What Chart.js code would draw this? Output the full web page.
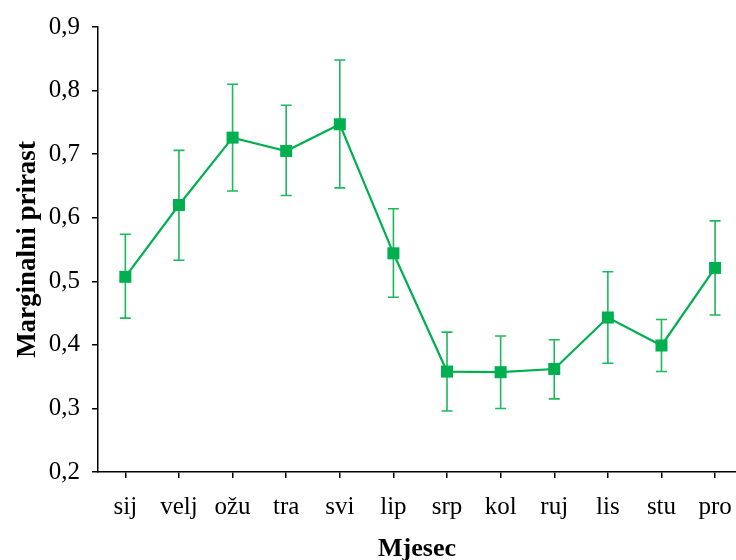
<!DOCTYPE html>
<html>
<head>
<meta charset="utf-8">
<script src="https://cdn.jsdelivr.net/npm/chart.js@4.4.1/dist/chart.umd.min.js"></script>
<style>
  html, body { margin: 0; padding: 0; background: #ffffff; }
  #wrap { width: 736px; height: 560px; }
</style>
</head>
<body>
<div id="wrap"><canvas id="c" width="736" height="560"></canvas></div>
<script>
const categories = ['sij', 'velj', 'ožu', 'tra', 'svi', 'lip', 'srp', 'kol', 'ruj', 'lis', 'stu', 'pro'];
const values = [0.507, 0.620, 0.726, 0.705, 0.747, 0.544, 0.358, 0.357, 0.362, 0.443, 0.399, 0.521];
const upper  = [0.574, 0.706, 0.810, 0.777, 0.848, 0.614, 0.420, 0.414, 0.408, 0.515, 0.440, 0.595];
const lower  = [0.442, 0.533, 0.642, 0.635, 0.647, 0.475, 0.296, 0.300, 0.315, 0.371, 0.358, 0.447];
const yTicks = [0.2, 0.3, 0.4, 0.5, 0.6, 0.7, 0.8, 0.9];
const xTitle = 'Mjesec';
const yTitle = 'Marginalni prirast';

const GREEN = '#00b050';
const BAR_GREEN = '#1cb85c';
const FONT = "'Liberation Serif', 'Times New Roman', serif";

const errorBars = {
  id: 'errorBars',
  beforeDatasetsDraw(chart) {
    const ctx = chart.ctx;
    const xs = chart.scales.x, ys = chart.scales.y;
    ctx.save();
    ctx.strokeStyle = BAR_GREEN;
    ctx.lineWidth = 1.6;
    const cap = 5.5;
    values.forEach((v, i) => {
      const x = xs.getPixelForValue(i);
      const yt = ys.getPixelForValue(upper[i]);
      const yb = ys.getPixelForValue(lower[i]);
      ctx.beginPath();
      ctx.moveTo(x, yt); ctx.lineTo(x, yb);
      ctx.moveTo(x - cap, yt); ctx.lineTo(x + cap, yt);
      ctx.moveTo(x - cap, yb); ctx.lineTo(x + cap, yb);
      ctx.stroke();
    });
    ctx.restore();
  }
};

new Chart(document.getElementById('c'), {
  type: 'line',
  data: {
    datasets: [{
      data: values.map((v, i) => ({ x: i, y: v })),
      borderColor: GREEN,
      backgroundColor: GREEN,
      borderWidth: 2.2,
      pointStyle: 'rect',
      pointRadius: 8.5,
      pointBorderWidth: 0,
      pointBackgroundColor: GREEN,
      tension: 0,
      fill: false,
      clip: false
    }]
  },
  options: {
    responsive: false,
    animation: false,
    layout: { autoPadding: false, padding: { top: 24, left: 0, right: 0, bottom: 0 } },
    plugins: { legend: { display: false }, tooltip: { enabled: false } },
    scales: {
      x: {
        type: 'linear',
        min: -0.51,
        max: 11.39,
        afterBuildTicks(scale) { scale.ticks = categories.map((c, i) => ({ value: i })); },
        afterFit(scale) { scale.height = 88; scale.paddingLeft = 0; scale.paddingRight = 0; },
        grid: { display: true, drawOnChartArea: false, drawTicks: true, tickLength: 6, color: '#000', lineWidth: 1.5 },
        border: { display: true, color: '#000', width: 1.5 },
        ticks: {
          autoSkip: false, maxRotation: 0, padding: 14, color: '#000',
          font: { family: FONT, size: 25 },
          callback: (v) => categories[v]
        },
        title: { display: true, text: xTitle, color: '#000', font: { family: FONT, size: 26, weight: 'bold' }, padding: { top: 0, bottom: -5 } }
      },
      y: {
        min: 0.2,
        max: 0.9,
        afterBuildTicks(scale) { scale.ticks = yTicks.map(v => ({ value: v })); },
        afterFit(scale) { scale.width = 98; },
        grid: { display: true, drawOnChartArea: false, drawTicks: true, tickLength: 6, color: '#000', lineWidth: 1.5 },
        border: { display: true, color: '#000', width: 1.5 },
        ticks: {
          padding: 12, color: '#000',
          font: { family: FONT, size: 25 },
          callback: (v) => v.toFixed(1).replace('.', ',')
        },
        title: { display: true, text: yTitle, color: '#000', font: { family: FONT, size: 27, weight: 'bold' }, padding: { top: 12, bottom: 0 } }
      }
    }
  },
  plugins: [errorBars]
});
</script>
</body>
</html>
